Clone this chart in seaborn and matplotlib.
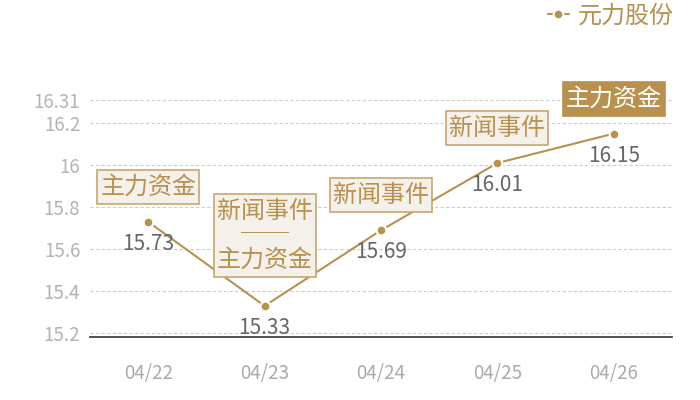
import matplotlib
matplotlib.use("Agg")
import matplotlib.pyplot as plt
from matplotlib.patches import Rectangle
import seaborn as sns

dates = ["04/22", "04/23", "04/24", "04/25", "04/26"]
prices = [15.73, 15.33, 15.69, 16.01, 16.15]
events = ["主力资金", "新闻事件\n──\n主力资金", "新闻事件", "新闻事件", "主力资金"]
highlight = [False, False, False, False, True]
y_ticks = [15.2, 15.4, 15.6, 15.8, 16, 16.2, 16.31]
y_tick_labels = ["15.2", "15.4", "15.6", "15.8", "16", "16.2", "16.31"]
series_name = "元力股份"

GOLD = "#b8914f"
BOX_FILL = "#f4f0ea"
BOX_EDGE = "#c9a56f"

sns.set_style("white")
plt.rcParams["font.family"] = ["Noto Sans CJK SC", "DejaVu Sans"]

fig = plt.figure(figsize=(7, 4), dpi=100)
ax = fig.add_axes([90 / 700, 1 - 337 / 400, 582 / 700, 237 / 400])

sns.lineplot(x=dates, y=prices, ax=ax, color=GOLD, linewidth=1.5, marker="o",
             markersize=7, markeredgecolor="white", markeredgewidth=1.5,
             label=series_name, sort=False)

ax.set_xlim(-0.5, len(dates) - 0.5)
ax.set_ylim(15.182, 16.31)
ax.set_yticks(y_ticks)
ax.set_yticklabels(y_tick_labels)
ax.tick_params(axis="y", length=0, pad=7, labelsize=13.5, labelcolor="#b3b3b3")
ax.tick_params(axis="x", length=0, pad=19, labelsize=13.5, labelcolor="#aaaaaa")
ax.set_xlabel("")
ax.set_ylabel("")
ax.grid(axis="y", linestyle=(0, (3, 2)), color="#cccccc", linewidth=0.8)
ax.grid(axis="x", visible=False)
for side in ["top", "right", "left"]:
    ax.spines[side].set_visible(False)
ax.spines["bottom"].set_color("#333333")
ax.spines["bottom"].set_linewidth(1.2)

# value labels under each point
for i, v in enumerate(prices):
    ax.annotate(f"{v:g}", xy=(i, v), xytext=(0, -22), textcoords="offset pixels",
                ha="center", va="center", fontsize=15, color="#666666")

# event labels above each point (boxes added after layout)
labels = []
for i, (v, txt, hl) in enumerate(zip(prices, events, highlight)):
    n_lines = txt.count("\n") + 1
    t = ax.annotate(txt, xy=(i, v), xytext=(0, 22 + 5.5 * (n_lines - 1)),
                    textcoords="offset pixels", ha="center", va="bottom",
                    fontsize=17.3, color="white" if hl else GOLD,
                    linespacing=0.93, multialignment="center", zorder=4)
    labels.append((t, hl))

leg = ax.legend(loc="upper right", bbox_to_anchor=(688 / 700, 1.03),
                bbox_transform=fig.transFigure, frameon=False, fontsize=17.3,
                handlelength=0.9, handletextpad=0.35, borderaxespad=0.2)
for t in leg.get_texts():
    t.set_color(GOLD)

fig.canvas.draw()
renderer = fig.canvas.get_renderer()
to_fig = fig.transFigure.inverted()
for t, hl in labels:
    bb = t.get_window_extent(renderer)
    x0, y0 = to_fig.transform((bb.x0 - 3, bb.y0 - 4))
    x1, y1 = to_fig.transform((bb.x1 + 3, bb.y1 + 4))
    rect = Rectangle((x0, y0), x1 - x0, y1 - y0, transform=fig.transFigure,
                     facecolor=GOLD if hl else BOX_FILL,
                     edgecolor=GOLD if hl else BOX_EDGE, linewidth=1.2,
                     zorder=3.5, clip_on=False)
    ax.add_artist(rect)

fig.savefig("out.png", dpi=100)
